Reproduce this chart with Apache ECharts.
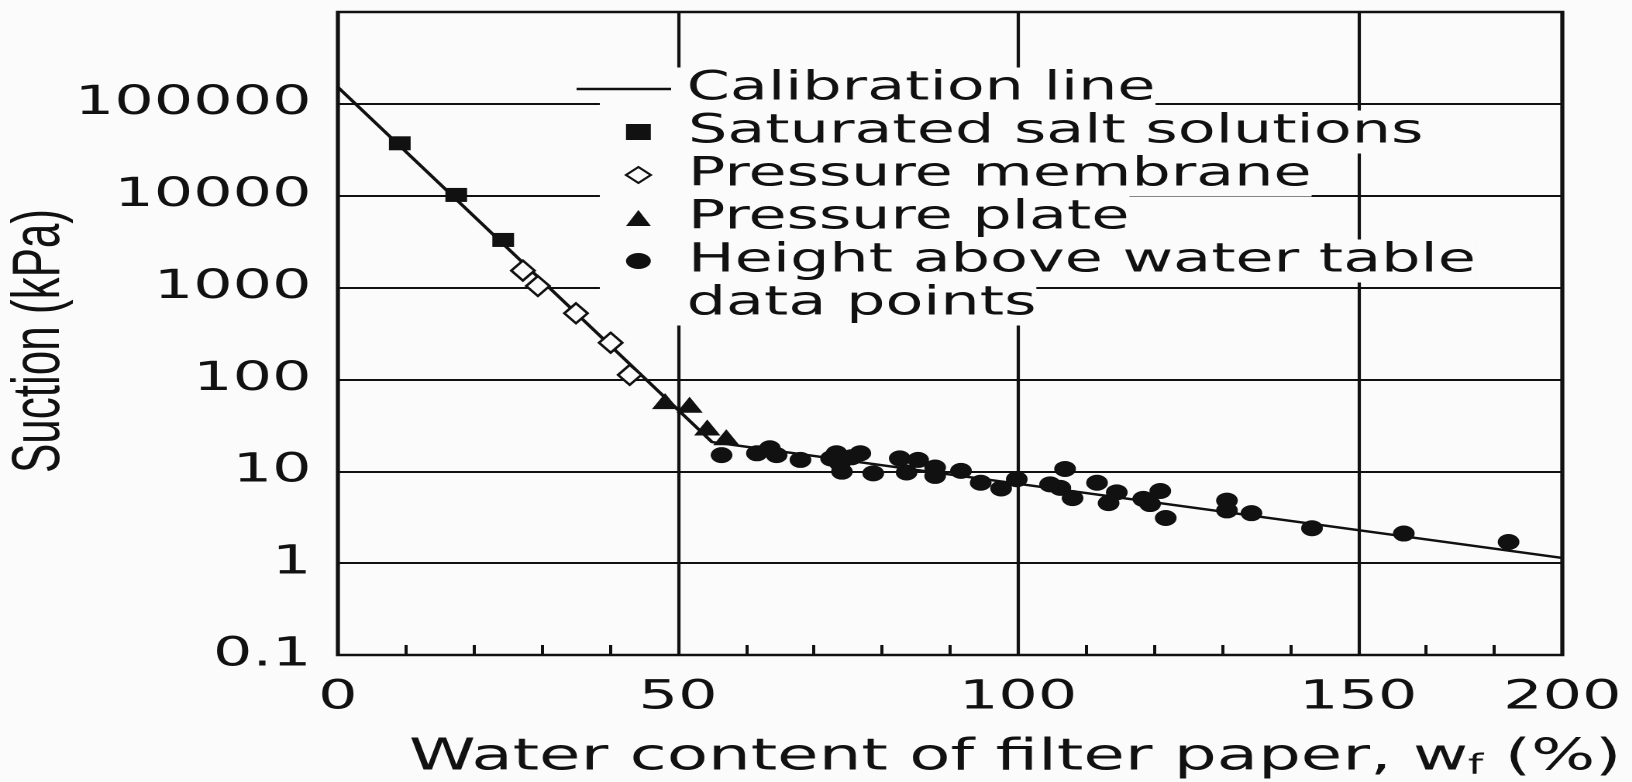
<!DOCTYPE html>
<html>
<head>
<meta charset="utf-8">
<script src="https://cdn.jsdelivr.net/npm/echarts@6/dist/echarts.min.js"></script>
<style>
html, body { margin: 0; padding: 0; background: #fbfbfb; overflow: hidden; width: 1632px; height: 782px; }
/* the reference figure is printed with wide lettering: draw at 1053px and stretch horizontally */
#chart { width: 1053px; height: 782px; transform: scaleX(1.5499); transform-origin: 0 0; }
</style>
</head>
<body>
<div id="chart"></div>
<script>
// ---- data ----
const calibW = [0, 55, 180];
const calibS = [152000, 20.8, 1.14];

const saltW = [9.1, 17.4, 24.3];
const saltS = [37200, 10200, 3300];

const membraneW = [27.2, 29.4, 35.0, 40.1, 42.9];
const membraneS = [1530, 1040, 525, 251, 112];

const plateW = [48.1, 51.7, 54.3, 57.1];
const plateS = [58, 53, 30, 23.5];

const heightW = [56.4, 61.6, 63.5, 64.5, 68.0, 72.5, 73.3, 73.8, 74.1, 75.5, 76.8, 78.7, 82.6, 83.6, 85.3, 87.8, 87.8, 91.6, 94.5, 97.5, 99.8, 104.7, 106.9, 106.2, 108.0, 111.6, 113.3, 114.5, 118.4, 119.4, 120.9, 121.7, 130.7, 130.7, 134.3, 143.2, 156.7, 172.1];
const heightS = [15.0, 15.7, 17.8, 15.0, 13.3, 13.8, 15.7, 12.2, 9.9, 14.2, 15.7, 9.5, 13.8, 9.7, 13.3, 11.0, 8.9, 10.1, 7.5, 6.5, 8.2, 7.2, 10.6, 6.6, 5.1, 7.5, 4.5, 5.9, 5.0, 4.4, 6.1, 3.1, 4.8, 3.75, 3.5, 2.4, 2.1, 1.7];

const xTickValues = [0, 50, 100, 150, 180];
const xTickLabels = ['0', '50', '100', '150', '200'];
const yTickLabels = ['0.1', '1', '10', '100', '1000', '10000', '100000', ''];

const seriesNames = ['Calibration line', 'Saturated salt solutions', 'Pressure membrane', 'Pressure plate', 'Height above water table'];
const legendSecondLine = 'data points';
const xTitle = '{a|Water content of filter paper, w}{s|f}{a| (%)}';
const yTitle = 'Suction (kPa)';

// ---- chart ----
const FONT = 'DejaVu Sans';
const INK = '#111111';
const BG = '#fbfbfb';
const zip = (a, b) => a.map((v, i) => [v, b[i]]);

const chart = echarts.init(document.getElementById('chart'), null, { renderer: 'canvas', devicePixelRatio: 2 });

const legendText = { fontFamily: FONT, fontSize: 40, color: INK, lineHeight: 43, backgroundColor: BG };

const option = {
  backgroundColor: BG,
  animation: false,
  grid: {
    left: 218, right: 45, top: 12, bottom: 127, outerBoundsMode: 'none', containLabel: false,
    show: true, borderColor: INK, borderWidth: 2.6, backgroundColor: 'transparent'
  },
  xAxis: [
    {
      type: 'value', min: 0, max: 180, interval: 50, position: 'bottom',
      axisLine: { show: false }, axisTick: { show: false },
      splitLine: { show: true, lineStyle: { color: INK, width: 2.1 } },
      axisLabel: {
        customValues: xTickValues,
        formatter: v => xTickLabels[xTickValues.indexOf(v)],
        margin: 23, fontFamily: FONT, fontSize: 40, color: INK
      },
      name: xTitle, nameLocation: 'middle', nameGap: 75,
      nameTextStyle: {
        padding: [0, 0, 0, 84],
        rich: {
          a: { fontFamily: FONT, fontSize: 43.5, color: INK, lineHeight: 50, verticalAlign: 'bottom' },
          s: { fontFamily: FONT, fontSize: 28, color: INK, lineHeight: 34, verticalAlign: 'bottom' }
        }
      }
    },
    {
      type: 'value', min: 0, max: 180, interval: 10, position: 'bottom',
      axisLine: { show: false },
      axisTick: { show: true, inside: true, length: 10, lineStyle: { color: INK, width: 2 } },
      axisLabel: { show: false }, splitLine: { show: false }
    }
  ],
  yAxis: {
    type: 'log', logBase: 10, min: 0.1, max: 1e6,
    axisLine: { show: false }, axisTick: { show: false },
    splitLine: { show: true, lineStyle: { color: INK, width: 2 } },
    axisLabel: {
      formatter: v => yTickLabels[Math.round(Math.log10(v)) + 1],
      margin: 17, fontFamily: FONT, fontSize: 40, color: INK
    },
    name: yTitle, nameLocation: 'middle', nameGap: 170, nameMoveOverlap: false,
    nameTextStyle: { fontFamily: 'Liberation Sans', fontSize: 44, color: INK, padding: [0, 15, 0, 0] }
  },
  legend: [
    {
      data: [{ name: seriesNames[0], icon: 'path://M0,0L61,0L61,2.5L0,2.5Z', itemStyle: { color: INK } }],
      orient: 'vertical', left: 372, top: 67.5, padding: 0,
      itemWidth: 61, itemHeight: 16, selectedMode: false,
      textStyle: Object.assign({}, legendText, { padding: [0, 0, 0, 5] })
    },
    {
      data: [
        seriesNames[1],
        { name: seriesNames[2], itemStyle: { color: BG, borderColor: INK, borderWidth: 1.8 } },
        seriesNames[3],
        seriesNames[4]
      ],
      orient: 'vertical', left: 403, top: 110.5, padding: 0, itemGap: 0,
      itemWidth: 16, itemHeight: 16, selectedMode: false,
      textStyle: Object.assign({}, legendText, { padding: [0, 0, 0, 19] })
    }
  ],
  graphic: [
    {
      type: 'rect', z: 1, silent: true,
      shape: { x: 387, y: 67.5, width: 57, height: 258 },
      style: { fill: BG }
    },
    {
      type: 'text', x: 387, y: 304, z: 100,
      style: {
        text: legendSecondLine, fontFamily: FONT, fontSize: 40, fill: INK,
        verticalAlign: 'middle', lineHeight: 43, backgroundColor: BG, padding: [0, 0, 0, 56]
      }
    }
  ],
  series: [
    {
      name: seriesNames[0], type: 'line', data: zip(calibW, calibS),
      symbol: 'none', lineStyle: { color: INK, width: 2.5 }, itemStyle: { color: INK }, z: 2
    },
    {
      name: seriesNames[1], type: 'scatter', data: zip(saltW, saltS),
      symbol: 'rect', symbolSize: 14, itemStyle: { color: INK, opacity: 1 }, z: 3
    },
    {
      name: seriesNames[2], type: 'scatter', data: zip(membraneW, membraneS),
      symbol: 'diamond', symbolSize: [15, 20], itemStyle: { color: BG, borderColor: INK, borderWidth: 2, opacity: 1 }, z: 3
    },
    {
      name: seriesNames[3], type: 'scatter', data: zip(plateW, plateS),
      symbol: 'triangle', symbolSize: [17, 16], itemStyle: { color: INK, opacity: 1 }, z: 3
    },
    {
      name: seriesNames[4], type: 'scatter', data: zip(heightW, heightS),
      symbol: 'circle', symbolSize: [14, 16], itemStyle: { color: INK, opacity: 1 }, z: 3
    }
  ]
};
chart.setOption(option);
</script>
</body>
</html>
